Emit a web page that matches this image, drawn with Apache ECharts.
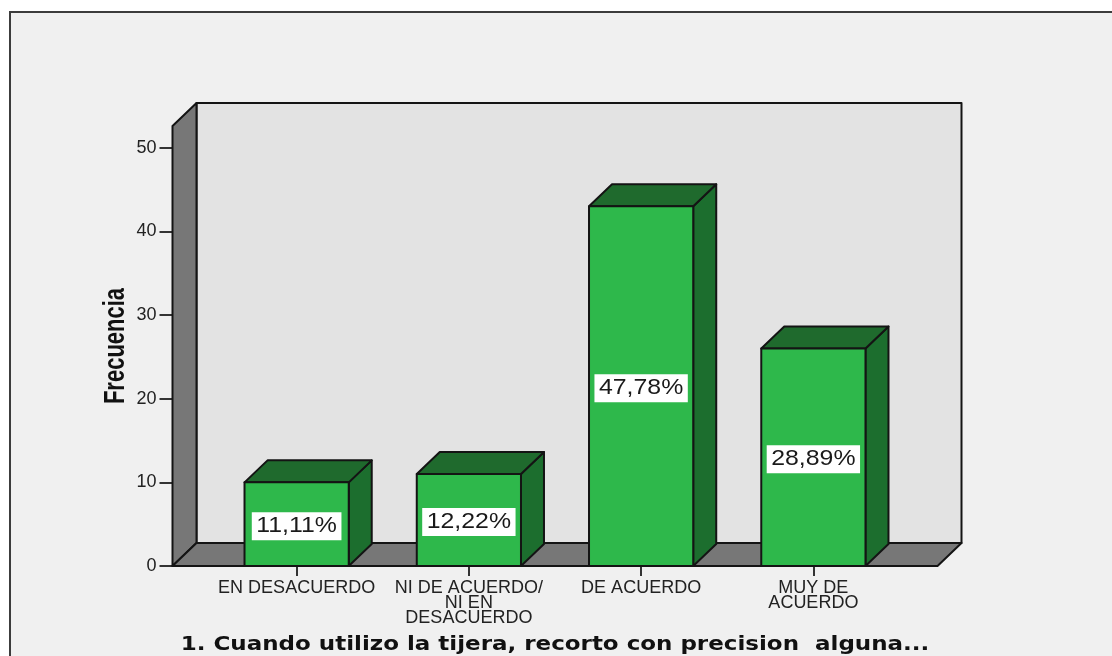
<!DOCTYPE html>
<html>
<head>
<meta charset="utf-8">
<style>html,body{margin:0;padding:0;background:#fff}#c{width:1112px;height:656px}</style>
<script src="https://cdn.jsdelivr.net/npm/echarts@6/dist/echarts.min.js"></script>
</head>
<body>
<div id="c"></div>
<script>
const categories = ['EN DESACUERDO', 'NI DE ACUERDO/\nNI EN\nDESACUERDO', 'DE ACUERDO', 'MUY DE\nACUERDO'];
const frequencies = [10, 11, 43, 26];
const percentLabels = ['11,11%', '12,22%', '47,78%', '28,89%'];
const yTicks = [0, 10, 20, 30, 40, 50];
const yMax = 52.6;
const xName = '1. Cuando utilizo la tijera, recorto con precision  alguna...';
const yName = 'Frecuencia';

const DX = 24, DY = 23, OVER = 38;
const DARK = '#141414';
const line = { stroke: DARK, lineWidth: 2, lineJoin: 'round' };
const poly = (pts, fill) => ({ type: 'polygon', shape: { points: pts }, style: Object.assign({ fill }, line) });

function renderWalls(params, api) {
  const cs = params.coordSys;
  const l = cs.x - OVER, r = cs.x + cs.width + OVER;
  const y0 = api.coord([0, 0])[1], yT = api.coord([0, yMax])[1];
  return {
    type: 'group',
    children: [
      poly([[l + DX, yT - DY], [r + DX, yT - DY], [r + DX, y0 - DY], [l + DX, y0 - DY]], '#e3e3e3'),
      poly([[l, yT], [l + DX, yT - DY], [l + DX, y0 - DY], [l, y0]], '#777777'),
      poly([[l, y0], [l + DX, y0 - DY], [r + DX, y0 - DY], [r, y0]], '#777777')
    ]
  };
}

function renderBar(params, api) {
  const c = api.coord([api.value(0), api.value(1)]);
  const y0 = api.coord([api.value(0), 0])[1];
  const w = api.size([1, 0])[0] * 0.605;
  const l = c[0] - w / 2, r = c[0] + w / 2, t = c[1];
  return {
    type: 'group',
    children: [
      poly([[r, t], [r + DX - 1, t - DY + 1], [r + DX - 1, y0 - DY + 1], [r, y0]], '#1c6e2e'),
      poly([[l, t], [l + DX - 1, t - DY + 1], [r + DX - 1, t - DY + 1], [r, t]], '#1f6a2d'),
      poly([[l, t], [r, t], [r, y0], [l, y0]], '#2eb84b'),
      {
        type: 'text', x: (l + r) / 2, y: (t + y0) / 2 + 2, scaleX: 1.13, scaleY: 1,
        style: {
          x: 0, y: 0, text: percentLabels[params.dataIndex], align: 'center', verticalAlign: 'middle',
          fontFamily: '"Liberation Sans"', fontSize: 22, fill: '#1a1a1a',
          backgroundColor: '#ffffff', padding: [3, 4, 3, 4]
        }
      }
    ]
  };
}

const chart = echarts.init(document.getElementById('c'), null, { renderer: 'canvas' });
chart.setOption({
  animation: false,
  backgroundColor: '#ffffff',
  graphic: [{
    type: 'rect', z: -10, silent: true,
    shape: { x: 10, y: 12, width: 1300, height: 900 },
    style: { fill: '#f0f0f0', stroke: '#3c3c3c', lineWidth: 2 }
  }, {
    type: 'text', z: 10, silent: true, x: 555, y: 645, scaleX: 1.149,
    style: {
      x: 0, y: 0, text: xName, align: 'center', verticalAlign: 'middle',
      fontFamily: '"DejaVu Sans"', fontWeight: 'bold', fontSize: 20, fill: '#111'
    }
  }, {
    type: 'text', z: 10, silent: true, x: 116, y: 346, rotation: Math.PI / 2, scaleY: 1.3,
    style: {
      x: 0, y: 0, text: yName, align: 'center', verticalAlign: 'middle',
      fontFamily: '"Liberation Sans"', fontWeight: 'bold', fontSize: 22, fill: '#111'
    }
  }],
  grid: { left: 210.5, right: 212.5, top: 126, bottom: 90, outerBoundsMode: 'none' },
  xAxis: {
    type: 'category',
    data: categories,
    axisLine: { show: false },
    axisTick: { show: true, alignWithLabel: true, length: 10, lineStyle: { color: '#333', width: 2 } },
    axisLabel: { interval: 0, margin: 15, fontFamily: '"Liberation Sans"', fontSize: 18, lineHeight: 15, color: '#222' }
  },
  yAxis: {
    type: 'value',
    min: 0, max: yMax, interval: 10,
    offset: OVER,
    axisLine: { show: true, lineStyle: { color: DARK, width: 2 } },
    axisTick: { show: true, length: 13, customValues: yTicks, lineStyle: { color: '#333', width: 2 } },
    axisLabel: { margin: 16, customValues: yTicks, fontFamily: '"Liberation Sans"', fontSize: 18, color: '#222' },
    splitLine: { show: false }
  },
  series: [
    { type: 'custom', z: 1, silent: true, renderItem: renderWalls, encode: { x: 0, y: 1 }, data: [[0, 0]] },
    { type: 'custom', z: 2, silent: true, renderItem: renderBar, encode: { x: 0, y: 1 }, data: frequencies.map((v, i) => [i, v]) }
  ]
});
</script>
</body>
</html>
